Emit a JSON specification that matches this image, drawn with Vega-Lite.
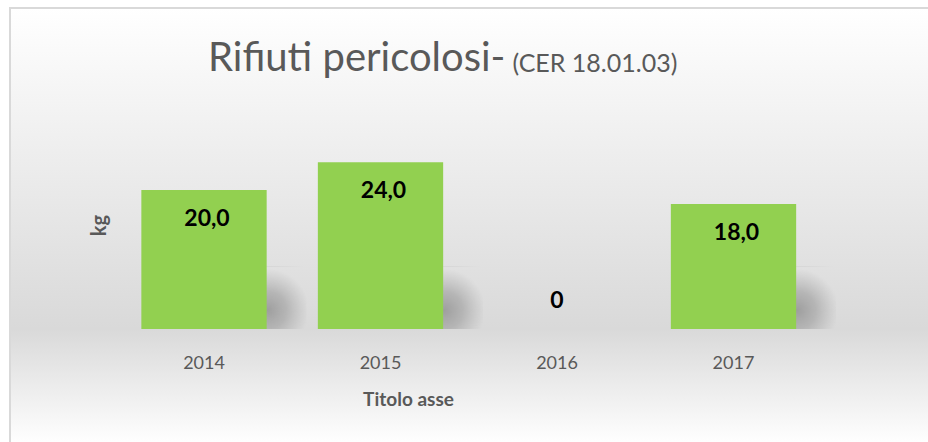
{
  "$schema": "https://vega.github.io/schema/vega-lite/v6.json",
  "width": 920,
  "height": 436,
  "autosize": {"type": "none"},
  "padding": {"left": 10, "top": 8, "right": 0, "bottom": 0},
  "background": "#ffffff",
  "config": {
    "locale": {"number": {"decimal": ",", "thousands": ".", "grouping": [3], "currency": ["", " €"]}},
    "font": "Lato",
    "view": {
      "stroke": "#d9d9d9",
      "strokeWidth": 2,
      "fill": {
        "gradient": "linear", "x1": 0, "y1": 0, "x2": 0, "y2": 1,
        "stops": [
          {"offset": 0, "color": "#ffffff"},
          {"offset": 0.736, "color": "#d9d9d9"},
          {"offset": 1, "color": "#ffffff"}
        ]
      }
    }
  },
  "title": {
    "text": "Rifiuti pericolosi-",
    "anchor": "start",
    "frame": "group",
    "dx": 198,
    "offset": -103,
    "baseline": "alphabetic",
    "fontSize": 40,
    "font": "Lato",
    "fontWeight": "normal",
    "color": "#595959"
  },
  "data": {
    "values": [
      {"anno": "2014", "kg": 20},
      {"anno": "2015", "kg": 24},
      {"anno": "2016", "kg": 0},
      {"anno": "2017", "kg": 18}
    ]
  },
  "encoding": {
    "x": {
      "field": "anno",
      "type": "ordinal",
      "scale": {"paddingInner": 0.29, "paddingOuter": 0.7513, "align": 0.4953},
      "axis": {
        "orient": "bottom",
        "offset": -115,
        "domain": false,
        "ticks": false,
        "tickSize": 0,
        "grid": false,
        "labelAngle": 0,
        "labelFontSize": 18,
        "labelColor": "#595959",
        "labelBaseline": "alphabetic",
        "labelPadding": 39,
        "title": "Titolo asse",
        "titleFontSize": 19,
        "titleFontWeight": "bold",
        "titleColor": "#595959",
        "titleX": 398,
        "titleY": 76,
        "titleAlign": "center",
        "titleBaseline": "alphabetic"
      }
    }
  },
  "layer": [
    {
      "transform": [{"filter": "datum.kg > 0"}],
      "mark": {
        "type": "bar",
        "xOffset": 40,
        "fill": {
          "gradient": "radial",
          "x1": 0.69, "y1": 0.6, "r1": 0,
          "x2": 0.69, "y2": 0.6, "r2": 0.33,
          "stops": [
            {"offset": 0, "color": "rgba(158,158,158,1)"},
            {"offset": 0.45, "color": "rgba(165,165,165,0.7)"},
            {"offset": 1, "color": "rgba(175,175,175,0)"}
          ]
        }
      },
      "encoding": {
        "y": {"datum": 9, "type": "quantitative", "scale": {"domain": [-16.55, 46.19], "nice": false, "zero": false}, "axis": null},
        "y2": {"datum": 0}
      }
    },
    {
      "mark": {"type": "bar", "color": "#92d050"},
      "encoding": {
        "y": {
          "field": "kg",
          "type": "quantitative",
          "scale": {"domain": [-16.55, 46.19], "nice": false, "zero": false},
          "axis": {
            "orient": "left",
            "labels": false,
            "ticks": false,
            "domain": false,
            "grid": false,
            "title": "kg",
            "titleFontSize": 20,
            "titleFontWeight": "bold",
            "titleColor": "#595959",
            "titleAngle": -90,
            "titleX": 89,
            "titleY": 217,
            "titleAlign": "center",
            "titleBaseline": "middle"
          }
        }
      }
    },
    {
      "transform": [{"filter": "datum.kg > 0"}],
      "mark": {"type": "text", "dy": 29, "dx": 3, "baseline": "middle", "fontSize": 23, "fontWeight": "bold", "color": "#000000"},
      "encoding": {
        "y": {"field": "kg", "type": "quantitative", "axis": null},
        "text": {"field": "kg", "type": "quantitative", "format": ".1f"}
      }
    },
    {
      "transform": [{"filter": "datum.kg == 0"}],
      "mark": {"type": "text", "dy": -28, "baseline": "middle", "fontSize": 23, "fontWeight": "bold", "color": "#000000"},
      "encoding": {
        "y": {
          "field": "kg",
          "type": "quantitative",
          "axis": {
            "orient": "right",
            "labels": false,
            "ticks": false,
            "domain": false,
            "grid": false,
            "title": "(CER 18.01.03)",
            "titleFontSize": 25,
            "titleFontWeight": "normal",
            "titleColor": "#595959",
            "titleAngle": 0,
            "titleX": -418,
            "titleY": 63,
            "titleAlign": "left",
            "titleBaseline": "alphabetic"
          }
        },
        "text": {"field": "kg", "type": "quantitative", "format": "d"}
      }
    }
  ],
  "resolve": {"axis": {"y": "independent"}}
}
